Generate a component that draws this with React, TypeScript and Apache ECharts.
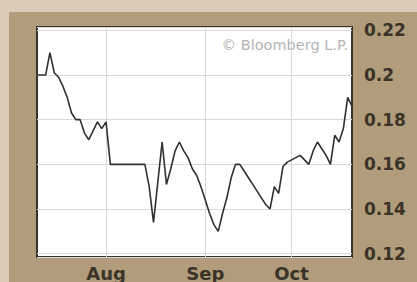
import React, { useEffect, useRef } from "react";
import * as echarts from "echarts";

// Weekday dates, 10 Jul 2007 – 19 Oct 2007
const startDate = "2007-07-10";
const endDate = "2007-10-19";
const monthNames = ["Jan", "Feb", "Mar", "Apr", "May", "Jun", "Jul", "Aug", "Sep", "Oct", "Nov", "Dec"];

function buildWeekdays(from: string, to: string): string[] {
  const out: string[] = [];
  const d = new Date(from + "T00:00:00Z");
  const end = new Date(to + "T00:00:00Z");
  while (d <= end) {
    const wd = d.getUTCDay();
    if (wd !== 0 && wd !== 6) out.push(d.toISOString().slice(0, 10));
    d.setUTCDate(d.getUTCDate() + 1);
  }
  return out;
}
const categories = buildWeekdays(startDate, endDate);

const values = [
  0.200, 0.200, 0.200, 0.210, 0.201, 0.199, 0.195, 0.190, 0.183, 0.180,
  0.180, 0.174, 0.171, 0.175, 0.179, 0.176, 0.179, 0.160, 0.160, 0.160,
  0.160, 0.160, 0.160, 0.160, 0.160, 0.160, 0.150, 0.134, 0.152, 0.170,
  0.151, 0.158, 0.166, 0.170, 0.166, 0.163, 0.158, 0.155, 0.150, 0.144,
  0.138, 0.133, 0.130, 0.138, 0.145, 0.154, 0.160, 0.160, 0.157, 0.154,
  0.151, 0.148, 0.145, 0.142, 0.140, 0.150, 0.147, 0.159, 0.161, 0.162,
  0.163, 0.164, 0.162, 0.160, 0.166, 0.170, 0.167, 0.164, 0.160, 0.173,
  0.170, 0.176, 0.190, 0.186,
];

const yTicks = [0.12, 0.14, 0.16, 0.18, 0.2, 0.22];
const yMin = 0.1185;
const yMax = 0.2215;
const watermark = "\u00A9 Bloomberg L.P.";

function isMonthStart(index: number): boolean {
  if (index <= 0) return false;
  return categories[index].slice(5, 7) !== categories[index - 1].slice(5, 7);
}

export default function App() {
  const ref = useRef<HTMLDivElement>(null);
  useEffect(() => {
    if (!ref.current) return;
    const chart = echarts.init(ref.current, null, { renderer: "svg" });
    const font = "DejaVu Sans";
    chart.setOption({
      animation: false,
      backgroundColor: "#b19d7b",
      graphic: [
        { type: "rect", shape: { x: 0, y: 0, width: 417, height: 12 }, style: { fill: "#d9cdb9" }, silent: true },
        { type: "rect", shape: { x: 0, y: 0, width: 9, height: 282 }, style: { fill: "#d9cdb9" }, silent: true },
        {
          type: "text",
          right: 69,
          top: 37,
          z: 10,
          style: { text: watermark, fill: "#b4b4b4", font: `14.5px "${font}"` },
          silent: true,
        },
      ],
      grid: {
        left: 37,
        right: 65,
        top: 27,
        bottom: 25,
        show: true,
        backgroundColor: "#ffffff",
        borderColor: "#38342a",
        borderWidth: 2,
      },
      xAxis: {
        type: "category",
        data: categories,
        boundaryGap: false,
        axisLine: { show: false },
        axisTick: { show: false },
        axisLabel: {
          interval: (i: number) => isMonthStart(i),
          formatter: (v: string) => monthNames[parseInt(v.slice(5, 7), 10) - 1],
          color: "#3a3428",
          fontFamily: font,
          fontWeight: "bold",
          fontSize: 18,
          margin: 7,
        },
        splitLine: {
          show: true,
          interval: (i: number) => isMonthStart(i),
          lineStyle: { color: "#d9d9d9", width: 1 },
        },
      },
      yAxis: {
        type: "value",
        position: "right",
        min: yMin,
        max: yMax,
        splitNumber: 5,
        axisLine: { show: false },
        axisTick: { show: false },
        axisLabel: {
          formatter: (v: number) => {
            const t = yTicks.find((k) => Math.abs(k - v) < 1e-6);
            return t === undefined ? "" : String(t);
          },
          color: "#3a3428",
          fontFamily: font,
          fontWeight: "bold",
          fontSize: 17,
          margin: 12,
        },
        splitLine: { show: true, lineStyle: { color: "#d9d9d9", width: 1 } },
      },
      series: [
        {
          type: "line",
          data: values,
          showSymbol: false,
          symbol: "none",
          lineStyle: { color: "#303030", width: 1.6 },
          z: 5,
        },
      ],
    });
    return () => chart.dispose();
  }, []);
  return (
    <div
      ref={ref}
      style={{ position: "absolute", left: 0, top: 0, width: 417, height: 282 }}
    />
  );
}
